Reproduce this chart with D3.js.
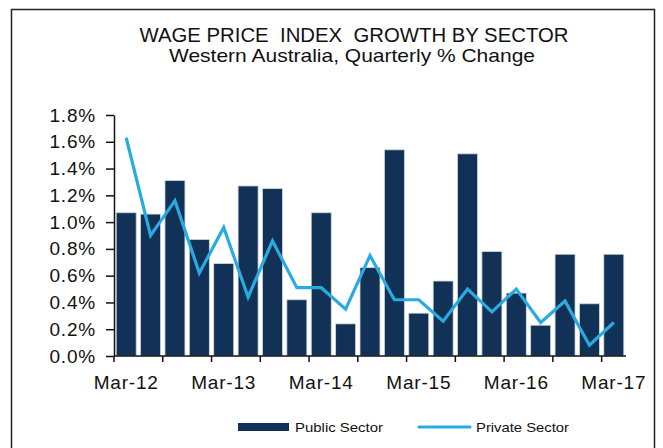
<!DOCTYPE html>
<html>
<head>
<meta charset="utf-8">
<script src="https://cdn.jsdelivr.net/npm/d3@7"></script>
<style>
  body { margin: 0; background: #fff; }
  svg { display: block; font-family: "Liberation Sans", Arial, sans-serif; }
</style>
</head>
<body>
<div id="chart"></div>
<script>
const quarters = ["Mar-12","Jun-12","Sep-12","Dec-12","Mar-13","Jun-13","Sep-13","Dec-13",
  "Mar-14","Jun-14","Sep-14","Dec-14","Mar-15","Jun-15","Sep-15","Dec-15",
  "Mar-16","Jun-16","Sep-16","Dec-16","Mar-17"];
const publicSector = [1.07,1.06,1.31,0.87,0.69,1.27,1.25,0.42,1.07,0.24,0.66,1.54,0.32,0.56,1.51,0.78,0.47,0.23,0.76,0.39,0.76];
const privateSector = [1.63,0.90,1.16,0.62,0.96,0.44,0.86,0.51,0.51,0.35,0.75,0.42,0.42,0.26,0.50,0.33,0.50,0.25,0.41,0.08,0.25];
const yTicks = [0,0.2,0.4,0.6,0.8,1.0,1.2,1.4,1.6,1.8];
const xLabels = ["Mar-12","Mar-13","Mar-14","Mar-15","Mar-16","Mar-17"];

const W = 663, H = 448;
const m = {l: 114, r: 37, t: 115, b: 92};

const svg = d3.select("#chart").append("svg")
  .attr("width", W).attr("height", H);

// frame
svg.append("rect")
  .attr("x", 11.5).attr("y", 9.5)
  .attr("width", 643).attr("height", 460)
  .attr("fill", "none").attr("stroke", "#222").attr("stroke-width", 1.5);

svg.append("text")
  .attr("x", 354).attr("y", 42)
  .attr("text-anchor", "middle")
  .attr("font-size", 20).attr("fill", "#111")
  .style("white-space", "pre")
  .attr("textLength", 429).attr("lengthAdjust", "spacingAndGlyphs")
  .text("WAGE PRICE  INDEX  GROWTH BY SECTOR");

svg.append("text")
  .attr("x", 352).attr("y", 62)
  .attr("text-anchor", "middle")
  .attr("font-size", 18.5).attr("fill", "#111")
  .attr("textLength", 366).attr("lengthAdjust", "spacingAndGlyphs")
  .text("Western Australia, Quarterly % Change");

const x = d3.scaleBand().domain(quarters).range([m.l, W - m.r]).paddingInner(0.18).paddingOuter(0.09);
const xc = d3.scaleBand().domain(quarters).range([m.l, W - m.r]);
const y = d3.scaleLinear().domain([0, 1.8]).range([H - m.b, m.t]);

const g = svg.append("g");

g.selectAll("rect.bar")
  .data(publicSector)
  .join("rect")
    .attr("class", "bar")
    .attr("x", (d, i) => x(quarters[i]))
    .attr("width", x.bandwidth())
    .attr("y", d => y(d))
    .attr("height", d => y(0) - y(d))
    .attr("fill", "#113256")
    .attr("stroke", "#d0d6de").attr("stroke-width", 0.8);

const line = d3.line()
  .x((d, i) => xc(quarters[i]) + xc.bandwidth() / 2)
  .y(d => y(d));

g.append("path")
  .attr("d", line(privateSector))
  .attr("fill", "none")
  .attr("stroke", "#29abe2")
  .attr("stroke-width", 3.2)
  .attr("stroke-linejoin", "miter");

// y axis
const yAxis = svg.append("g")
  .attr("transform", `translate(${m.l},0)`)
  .call(d3.axisLeft(y).tickValues(yTicks).tickFormat(d => d.toFixed(1) + "%").tickSize(8).tickPadding(10).tickSizeOuter(0));
yAxis.select(".domain").attr("stroke", "#111").attr("stroke-width", 1.5);
yAxis.selectAll(".tick line").attr("stroke", "#111").attr("stroke-width", 1.5);
yAxis.selectAll("text").attr("font-size", 19).attr("fill", "#111")
  .attr("letter-spacing", 0.8)
  .attr("font-family", "Liberation Sans, Arial, sans-serif");

// x axis: ticks on every second category boundary
const tickIdx = d3.range(0, 21, 2);
const xAxisG = svg.append("g").attr("transform", `translate(0,${H - m.b})`);
xAxisG.append("line")
  .attr("x1", m.l).attr("x2", W - m.r)
  .attr("stroke", "#111").attr("stroke-width", 1.5);
xAxisG.selectAll("line.tk")
  .data(tickIdx)
  .join("line")
    .attr("class", "tk")
    .attr("x1", i => xc(quarters[i])).attr("x2", i => xc(quarters[i]))
    .attr("y1", 0).attr("y2", 6)
    .attr("stroke", "#111").attr("stroke-width", 1.5);
xAxisG.selectAll("text")
  .data(xLabels)
  .join("text")
    .attr("x", d => xc(d) + xc.bandwidth() / 2)
    .attr("y", 33)
    .attr("text-anchor", "middle")
    .attr("font-size", 19).attr("fill", "#111")
    .attr("letter-spacing", 0.8)
    .text(d => d);

// legend
const lg = svg.append("g");
lg.append("rect").attr("x", 238).attr("y", 423).attr("width", 51).attr("height", 8).attr("fill", "#113256");
lg.append("text").attr("x", 295).attr("y", 432).attr("font-size", 13.5).attr("fill", "#111")
  .attr("textLength", 88).attr("lengthAdjust", "spacingAndGlyphs").text("Public Sector");
lg.append("line").attr("x1", 419).attr("x2", 470).attr("y1", 427).attr("y2", 427)
  .attr("stroke", "#29abe2").attr("stroke-width", 3.2).attr("stroke-linecap", "round");
lg.append("text").attr("x", 476).attr("y", 432).attr("font-size", 13.5).attr("fill", "#111")
  .attr("textLength", 93).attr("lengthAdjust", "spacingAndGlyphs").text("Private Sector");
</script>
</body>
</html>
